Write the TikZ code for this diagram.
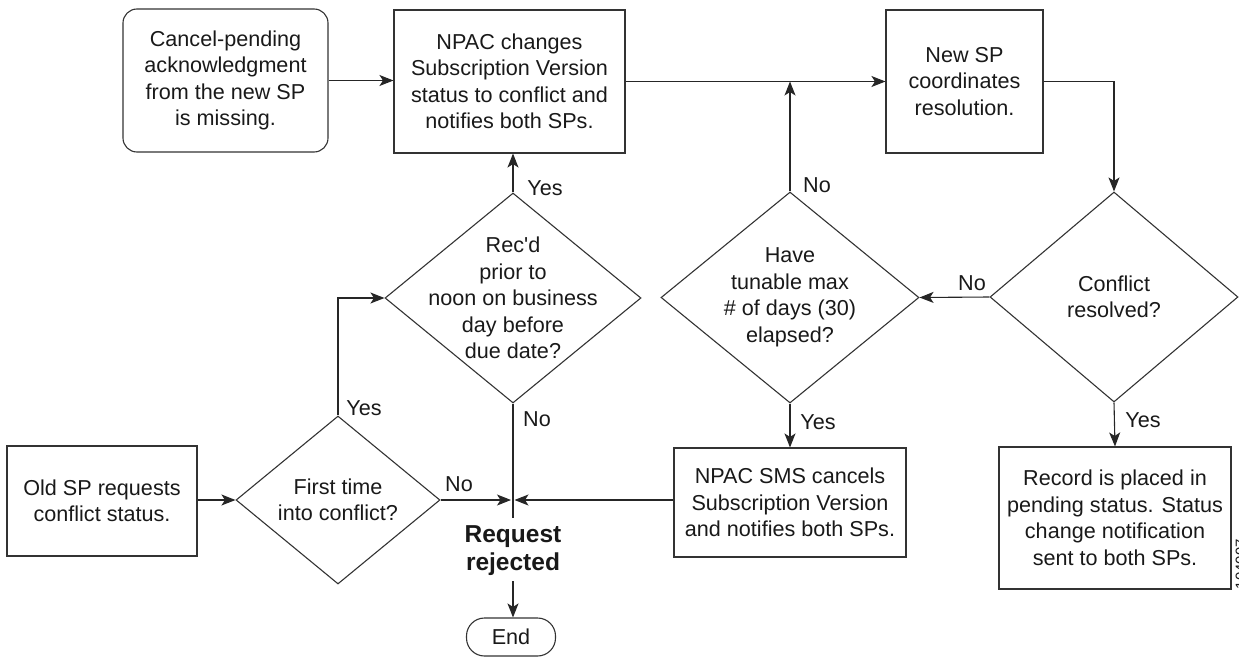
\documentclass[tikz,border=0pt]{standalone}
\usepackage{fontspec}
\setmainfont{Liberation Sans}[Ligatures=TeXOff]
\usetikzlibrary{arrows.meta,shapes.geometric}
\newcommand\fsz{\fontsize{21.6}{26.5}\selectfont}
\tikzset{
  box/.style={draw=black!80, line width=1.1pt, inner sep=0pt, align=center, font=\fsz, text=black!90},
  dia/.style={draw=black!80, line width=1.1pt, diamond, inner sep=0pt},
  txt/.style={inner sep=0pt, align=center, font=\fsz, text=black!90},
  lbl/.style={inner sep=0pt, font=\fsz, text=black!90},
  conn/.style={draw=black!85, line width=1.1pt},
  arr/.style={conn, -{Stealth[length=14pt, width=11pt, inset=3.5pt]}}
}
\begin{document}
\begin{tikzpicture}[x=1pt, y=-1pt]
\useasboundingbox (0,0) rectangle (1239,656);
% boxes
\node[box, rounded corners=14pt, minimum width=205pt, minimum height=143pt] (cancel) at (225.5,80.5)
  {Cancel-pending\\acknowledgment\\from the new SP\\is missing.};
\node[box, minimum width=231pt, minimum height=143pt] (npac) at (509.5,81.5)
  {NPAC changes\\Subscription Version\\status to conflict and\\notifies both SPs.};
\node[box, minimum width=157pt, minimum height=143pt] (newsp) at (964.5,81.5)
  {New SP\\coordinates\\resolution.};
\node[box, minimum width=190pt, minimum height=110pt] (old) at (102,501)
  {Old SP requests\\conflict status.};
\node[box, minimum width=232pt, minimum height=109pt] (sms) at (790,502.5)
  {NPAC SMS cancels\\Subscription Version\\and notifies both SPs.};
\node[box, minimum width=232pt, minimum height=142pt] (record) at (1115,518)
  {Record is placed in\\pending status. Status\\change notification\\sent to both SPs.};
\node[box, rounded corners=18pt, minimum width=89pt, minimum height=38pt] (end) at (511,637) {End};
% diamonds
\node[dia, minimum width=256pt, minimum height=210pt] (rec) at (513,298) {};
\node[txt] (rectxt) at (rec) {Rec'd\\prior to\\noon on business\\day before\\due date?};
\node[dia, minimum width=204pt, minimum height=168pt] (first) at (338,500) {};
\node[txt] (firsttxt) at (first) {First time\\into conflict?};
\node[dia, minimum width=258pt, minimum height=211pt] (have) at (790,297.5) {};
\node[txt] (havetxt) at (have) {Have\\tunable max\\\# of days (30)\\elapsed?};
\node[dia, minimum width=248pt, minimum height=210pt] (conflict) at (1114,297) {};
\node[txt] (conflicttxt) at (conflict) {Conflict\\resolved?};
% request rejected
\node[inner sep=0pt, align=center, font=\fontsize{24.5}{28}\selectfont\bfseries, text=black!90] (rej) at (513,551) {Request\\rejected};
% coordinates
\coordinate (jl) at (511,500);
\coordinate (jr) at (514.5,500);
\coordinate (vbot) at (513,518);
\coordinate (rejtop) at (513,581);
% connectors
\draw[arr] (cancel.east) -- (cancel.east -| npac.west);
\draw[arr] (npac.east) -- (npac.east -| newsp.west);
\draw[arr] (have.north) -- (have.north |- npac.east);
\draw[arr] (newsp.east) -| (conflict.north);
\draw[arr] (conflict.west) -- (have.east);
\draw[arr] (conflict.south) -- (record.north);
\draw[arr] (have.south) -- (sms.north);
\draw[arr] (sms.west |- jr) -- (jr);
\draw[arr] (first.east) -- (jl);
\draw[conn] (rec.south) -- (vbot);
\draw[arr] (old.east |- first.west) -- (first.west);
\draw[arr] (first.north) |- (rec.west);
\draw[arr] (rec.north) -- (rec.north |- npac.south);
\draw[arr] (rejtop) -- (rejtop |- end.north);
% labels
\node[lbl] (l1) at (545,188) {Yes};
\node[lbl] (l2) at (817,185) {No};
\node[lbl] (l3) at (972,283) {No};
\node[lbl] (l4) at (364,408) {Yes};
\node[lbl] (l5) at (459,484) {No};
\node[lbl] (l6) at (537,419) {No};
\node[lbl] (l7) at (818,422) {Yes};
\node[lbl] (l8) at (1143,420) {Yes};
% figure number (cut by the right edge, as in the reference)
\node[inner sep=0pt, rotate=90, anchor=base, font=\fontsize{15}{15}\selectfont, text=black!90] (fignum) at (1246,564) {104097};
\end{tikzpicture}
\end{document}
